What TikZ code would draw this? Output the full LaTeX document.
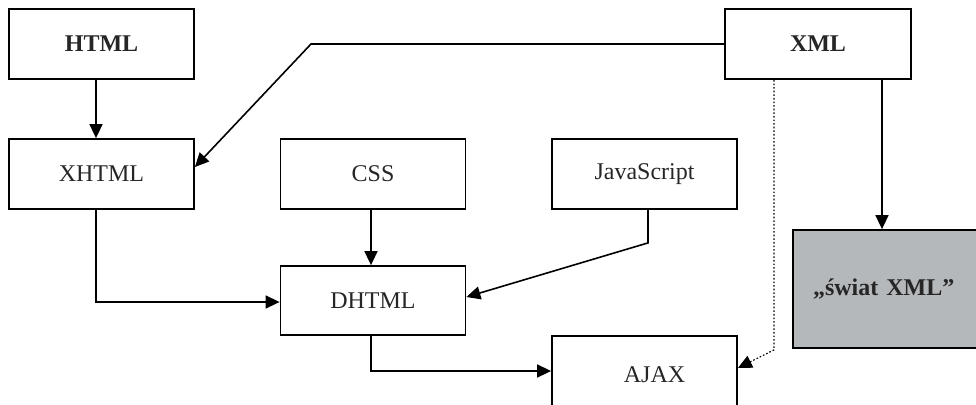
\documentclass[tikz,border=0pt]{standalone}
\usepackage{fontspec}
\setmainfont{Liberation Serif}
\usetikzlibrary{arrows.meta,calc}
\definecolor{worldgray}{RGB}{181,184,186}
\tikzset{
	box/.style={draw, line width=0.9pt, minimum width=92.5pt, minimum height=35pt,
		inner sep=0pt, font=\fontsize{12}{14}\selectfont, text=black!85},
	link/.style={line width=0.8pt, -{Triangle[length=7pt,width=6.5pt]}},
	dotlink/.style={link, densely dotted, line width=0.6pt}
}

\begin{document}
\begin{tikzpicture}[x=0.5pt,y=-0.5pt]
		%%%%% START %%%%%
		\useasboundingbox (0,0) rectangle (976,404);
		\clip (0,0) rectangle (976,404);
		
		\node[box] (html) at (101.5,44) {\raisebox{-2pt}{\textbf{HTML}}};
		\node[box, minimum width=93pt] (xml) at (818,44) {\raisebox{-1pt}{\textbf{XML}}};
		
		\node[box] (xhtml) at (101.5,174) {XHTML};
		\node[box] (css) at (373,174) {CSS};
		\node[box] (js) at (644.5,174) {JavaScript};
		
		\node[box, minimum height=34.5pt] (dhtml) at (373,300.5) {DHTML};
		\node[box, minimum height=39pt] (ajax) at (644.5,375) {\hspace*{10pt}AJAX};
		
		\node[box, fill=worldgray, minimum height=59pt, text width=80pt, align=left,
			inner xsep=10pt] (world) at (893,289) {\textbf{,,świat XML''}};
		
		\draw[link] ([xshift=-2.75pt]html.south) -- ([xshift=-2.75pt]xhtml.north);
		\draw[link] (xml.west) -- (311,44) -- ([yshift=3.5pt]xhtml.east);
		\draw[link] ([xshift=-2.75pt]xhtml.south) |- ([yshift=-0.75pt]dhtml.west);
		\draw[link] ([xshift=-1pt]css.south) -- ([xshift=-1pt]dhtml.north);
		\draw[link] ([xshift=1.75pt]js.south) -- ++(0,33) -- ([yshift=1.75pt]dhtml.east);
		\draw[link] ([xshift=-1pt]dhtml.south) |- ([yshift=2pt]ajax.west);
		\draw[dotlink] ([xshift=-22pt]xml.south) -- ++(0,270) -- ([yshift=3.5pt]ajax.east);
		\draw[link] ([xshift=32pt]xml.south) -- ([xshift=32pt]xml.south |- world.north);
		%%%%% END %%%%%
\end{tikzpicture}
\end{document}
